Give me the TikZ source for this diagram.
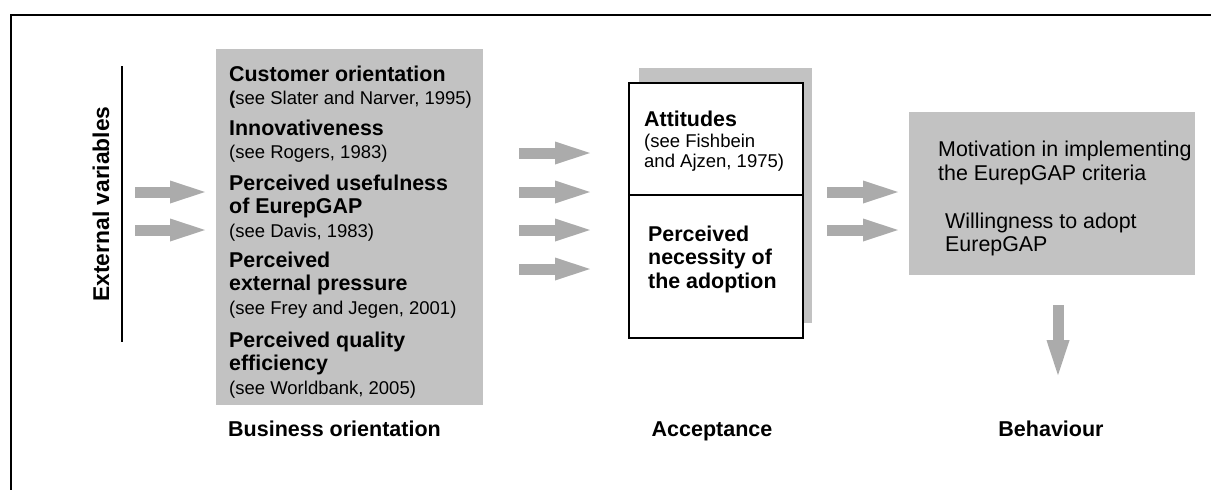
\documentclass[tikz,border=0pt]{standalone}
\usepackage{fontspec}
\setmainfont{Liberation Sans}
\usetikzlibrary{arrows.meta}

\definecolor{boxgray}{gray}{0.76}
\definecolor{arrowgray}{gray}{0.67}
\newcommand\seeref[1]{{\mdseries\fontsize{18.5}{23.5}\selectfont #1}}
\tikzset{
  panel/.style={fill=boxgray, anchor=north west, inner sep=0pt},
  framed/.style={panel, fill=white, draw=black, line width=2pt},
  % multi-line items sit on the baseline of their last line
  item/.style={align=left, anchor=base west, inner sep=0pt,
    font=\fontsize{21.4}{23.5}\selectfont},
  fat/.style={line width=11pt, draw=arrowgray,
    -{Triangle[length=35pt,width=23pt,line width=0pt]}},
  stage/.style={anchor=base, inner sep=0pt, font=\bfseries\fontsize{21.5}{23.5}\selectfont}
}

\begin{document}
\begin{tikzpicture}[x=1pt,y=-1pt]
\useasboundingbox (0,0) rectangle (1211,490);
% frame, open to the right and below
\draw[line width=2pt] (11,492) -- (11,15) -- (1213,15);

% external variables
\node[rotate=90, inner sep=0pt, font=\bfseries\fontsize{22.8}{24}\selectfont] (ext) at (101,204) {External variables};
\coordinate (extt) at (122,66);
\coordinate (extb) at (122,342);
\draw[line width=1.5pt] (extt) -- (extb);

% business orientation
\node[panel, minimum width=267pt, minimum height=356pt] (biz) at (216,49) {};
\node[item] (cust) at (229,104.5) {\textbf{Customer orientation}\\\seeref{\textbf{(}see Slater and Narver, 1995)}};
\node[item] (innov) at (229,158.5) {\textbf{Innovativeness}\\\seeref{(see Rogers, 1983)}};
\node[item] (useful) at (229,237) {\textbf{Perceived usefulness}\\\textbf{of EurepGAP}\\\seeref{(see Davis, 1983)}};
\node[item] (press) at (229,314) {\textbf{Perceived}\\\textbf{external pressure}\\\seeref{(see Frey and Jegen, 2001)}};
\node[item] (qual) at (229,394) {\textbf{Perceived quality}\\\textbf{efficiency}\\\seeref{(see Worldbank, 2005)}};

% acceptance, white boxes over a grey one
\node[panel, minimum width=173pt, minimum height=255pt] (accsh) at (639,68) {};
\node[framed, minimum width=174pt, minimum height=112pt] (att) at (628,82) {};
\node[framed, minimum width=174pt, minimum height=143pt] (nec) at (628,194) {};
\node[item, font=\fontsize{18.5}{20}\selectfont] (attx) at (644,167)
  {\textbf{\fontsize{21.4}{20}\selectfont Attitudes}\\[1pt](see Fishbein\\and Ajzen, 1975)};
\node[item, font=\bfseries\fontsize{21.4}{23.5}\selectfont] (necx) at (648,288)
  {Perceived\\necessity of\\the adoption};

% behaviour
\node[panel, minimum width=286pt, minimum height=163pt] (mot) at (909,112) {};
\node[item] (motx) at (938,180) {Motivation in implementing\\the EurepGAP criteria};
\node[item] (will) at (945,251.5) {Willingness to adopt\\EurepGAP};

\node[stage, anchor=base west] (lbiz) at (228,436) {Business orientation};
\node[stage] (lacc) at (712,436) {Acceptance};
\node[stage] (lbeh) at (1051,436) {Behaviour};

% block arrows
\foreach \y in {192,230}
  \draw[fat, shorten <=13pt, shorten >=11pt] (extt |- 0,\y) -- (biz.west |- 0,\y);
\foreach \y in {153,192,230,269}
  \draw[fat, shorten <=36pt, shorten >=38pt] (biz.east |- 0,\y) -- (att.west |- 0,\y);
\foreach \y in {192,230}
  \draw[fat, shorten <=15pt, shorten >=11pt] (accsh.east |- 0,\y) -- (mot.west |- 0,\y);
\draw[fat, shorten <=30pt, shorten >=45pt] (mot.south -| 1058,0) -- (lbeh.north -| 1058,0);
\end{tikzpicture}
\end{document}
